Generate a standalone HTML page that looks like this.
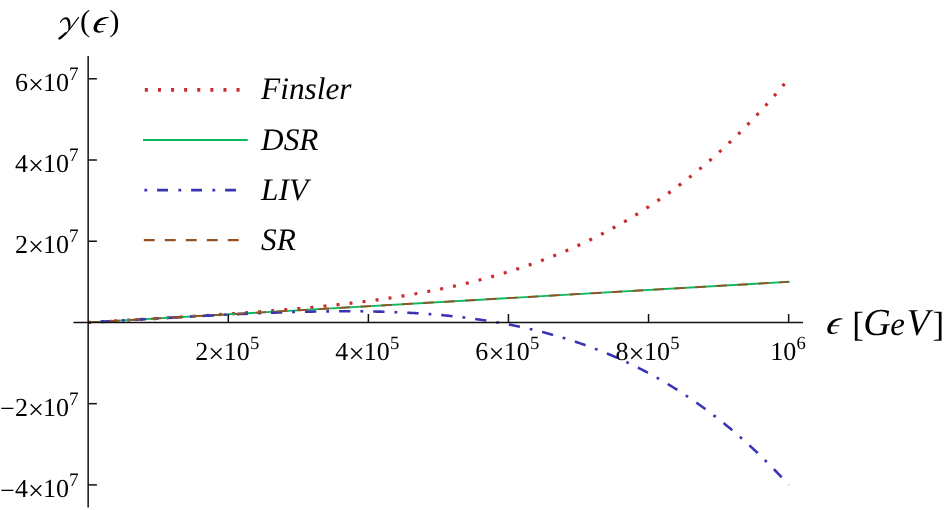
<!DOCTYPE html>
<html><head><meta charset="utf-8"><title>plot</title>
<style>
html,body{margin:0;padding:0;background:#fff;}
body{width:947px;height:510px;overflow:hidden;}
svg{display:block;will-change:transform;}
text{font-family:"Liberation Serif",serif;fill:#000;text-rendering:geometricPrecision;}
.it{font-style:italic;}
</style></head><body>
<svg width="947" height="510" viewBox="0 0 947 510">
<rect width="947" height="510" fill="#fff"/>

<g fill="none">
<path d="M88.20 322.45 L89.95 322.35 L91.70 322.25 L93.45 322.15 L95.20 322.04 L96.96 321.94 L98.71 321.84 L100.46 321.74 L102.21 321.64 L103.96 321.54 L105.71 321.43 L107.46 321.33 L109.21 321.23 L110.96 321.13 L112.72 321.03 L114.47 320.93 L116.22 320.83 L117.97 320.72 L119.72 320.62 L121.47 320.52 L123.22 320.42 L124.97 320.32 L126.72 320.21 L128.48 320.11 L130.23 320.01 L131.98 319.91 L133.73 319.81 L135.48 319.70 L137.23 319.60 L138.98 319.50 L140.73 319.40 L142.48 319.30 L144.24 319.19 L145.99 319.09 L147.74 318.99 L149.49 318.88 L151.24 318.78 L152.99 318.68 L154.74 318.58 L156.49 318.47 L158.24 318.37 L160.00 318.27 L161.75 318.16 L163.50 318.06 L165.25 317.95 L167.00 317.85 L168.75 317.74 L170.50 317.64 L172.25 317.53 L174.00 317.43 L175.75 317.32 L177.51 317.22 L179.26 317.11 L181.01 317.01 L182.76 316.90 L184.51 316.79 L186.26 316.69 L188.01 316.58 L189.76 316.47 L191.51 316.36 L193.27 316.26 L195.02 316.15 L196.77 316.04 L198.52 315.93 L200.27 315.82 L202.02 315.71 L203.77 315.60 L205.52 315.49 L207.27 315.38 L209.03 315.26 L210.78 315.15 L212.53 315.04 L214.28 314.93 L216.03 314.81 L217.78 314.70 L219.53 314.58 L221.28 314.47 L223.03 314.35 L224.79 314.24 L226.54 314.12 L228.29 314.00 L230.04 313.89 L231.79 313.77 L233.54 313.65 L235.29 313.53 L237.04 313.41 L238.79 313.28 L240.55 313.16 L242.30 313.04 L244.05 312.92 L245.80 312.79 L247.55 312.67 L249.30 312.54 L251.05 312.41 L252.80 312.29 L254.55 312.16 L256.31 312.03 L258.06 311.90 L259.81 311.77 L261.56 311.64 L263.31 311.50 L265.06 311.37 L266.81 311.24 L268.56 311.10 L270.31 310.96 L272.07 310.83 L273.82 310.69 L275.57 310.55 L277.32 310.41 L279.07 310.26 L280.82 310.12 L282.57 309.98 L284.32 309.83 L286.07 309.68 L287.83 309.54 L289.58 309.39 L291.33 309.24 L293.08 309.09 L294.83 308.93 L296.58 308.78 L298.33 308.62 L300.08 308.47 L301.83 308.31 L303.59 308.15 L305.34 307.99 L307.09 307.82 L308.84 307.66 L310.59 307.49 L312.34 307.33 L314.09 307.16 L315.84 306.99 L317.59 306.81 L319.35 306.64 L321.10 306.47 L322.85 306.29 L324.60 306.11 L326.35 305.93 L328.10 305.75 L329.85 305.56 L331.60 305.38 L333.35 305.19 L335.11 305.00 L336.86 304.81 L338.61 304.62 L340.36 304.42 L342.11 304.22 L343.86 304.02 L345.61 303.82 L347.36 303.62 L349.11 303.41 L350.87 303.21 L352.62 303.00 L354.37 302.78 L356.12 302.57 L357.87 302.35 L359.62 302.14 L361.37 301.91 L363.12 301.69 L364.87 301.47 L366.62 301.24 L368.38 301.01 L370.13 300.78 L371.88 300.54 L373.63 300.30 L375.38 300.06 L377.13 299.82 L378.88 299.57 L380.63 299.33 L382.38 299.08 L384.14 298.82 L385.89 298.57 L387.64 298.31 L389.39 298.05 L391.14 297.78 L392.89 297.51 L394.64 297.24 L396.39 296.97 L398.14 296.70 L399.90 296.42 L401.65 296.13 L403.40 295.85 L405.15 295.56 L406.90 295.27 L408.65 294.98 L410.40 294.68 L412.15 294.38 L413.90 294.07 L415.66 293.77 L417.41 293.46 L419.16 293.14 L420.91 292.82 L422.66 292.50 L424.41 292.18 L426.16 291.85 L427.91 291.52 L429.66 291.18 L431.42 290.85 L433.17 290.50 L434.92 290.16 L436.67 289.81 L438.42 289.45 L440.17 289.10 L441.92 288.74 L443.67 288.37 L445.42 288.00 L447.18 287.63 L448.93 287.25 L450.68 286.87 L452.43 286.49 L454.18 286.10 L455.93 285.70 L457.68 285.31 L459.43 284.91 L461.18 284.50 L462.94 284.09 L464.69 283.67 L466.44 283.26 L468.19 282.83 L469.94 282.40 L471.69 281.97 L473.44 281.53 L475.19 281.09 L476.94 280.65 L478.70 280.20 L480.45 279.74 L482.20 279.28 L483.95 278.81 L485.70 278.34 L487.45 277.87 L489.20 277.39 L490.95 276.90 L492.70 276.41 L494.46 275.92 L496.21 275.42 L497.96 274.91 L499.71 274.40 L501.46 273.89 L503.21 273.36 L504.96 272.84 L506.71 272.31 L508.46 271.77 L510.22 271.23 L511.97 270.68 L513.72 270.12 L515.47 269.56 L517.22 269.00 L518.97 268.43 L520.72 267.85 L522.47 267.27 L524.22 266.68 L525.98 266.09 L527.73 265.49 L529.48 264.88 L531.23 264.27 L532.98 263.65 L534.73 263.02 L536.48 262.39 L538.23 261.76 L539.98 261.11 L541.73 260.46 L543.49 259.81 L545.24 259.15 L546.99 258.48 L548.74 257.80 L550.49 257.12 L552.24 256.43 L553.99 255.74 L555.74 255.03 L557.49 254.32 L559.25 253.61 L561.00 252.89 L562.75 252.16 L564.50 251.42 L566.25 250.68 L568.00 249.93 L569.75 249.17 L571.50 248.40 L573.25 247.63 L575.01 246.85 L576.76 246.06 L578.51 245.27 L580.26 244.47 L582.01 243.66 L583.76 242.84 L585.51 242.02 L587.26 241.19 L589.01 240.35 L590.77 239.50 L592.52 238.64 L594.27 237.78 L596.02 236.91 L597.77 236.03 L599.52 235.14 L601.27 234.25 L603.02 233.34 L604.77 232.43 L606.53 231.51 L608.28 230.58 L610.03 229.65 L611.78 228.70 L613.53 227.75 L615.28 226.78 L617.03 225.81 L618.78 224.83 L620.53 223.84 L622.29 222.85 L624.04 221.84 L625.79 220.83 L627.54 219.80 L629.29 218.77 L631.04 217.73 L632.79 216.68 L634.54 215.62 L636.29 214.55 L638.05 213.47 L639.80 212.38 L641.55 211.28 L643.30 210.17 L645.05 209.06 L646.80 207.93 L648.55 206.79 L650.30 205.65 L652.05 204.49 L653.81 203.33 L655.56 202.15 L657.31 200.96 L659.06 199.77 L660.81 198.56 L662.56 197.35 L664.31 196.12 L666.06 194.88 L667.81 193.64 L669.57 192.38 L671.32 191.11 L673.07 189.83 L674.82 188.54 L676.57 187.24 L678.32 185.93 L680.07 184.61 L681.82 183.28 L683.57 181.94 L685.33 180.58 L687.08 179.22 L688.83 177.84 L690.58 176.46 L692.33 175.06 L694.08 173.65 L695.83 172.23 L697.58 170.79 L699.33 169.35 L701.09 167.89 L702.84 166.42 L704.59 164.95 L706.34 163.45 L708.09 161.95 L709.84 160.44 L711.59 158.91 L713.34 157.37 L715.09 155.82 L716.84 154.26 L718.60 152.68 L720.35 151.09 L722.10 149.49 L723.85 147.88 L725.60 146.25 L727.35 144.62 L729.10 142.96 L730.85 141.30 L732.60 139.63 L734.36 137.94 L736.11 136.23 L737.86 134.52 L739.61 132.79 L741.36 131.05 L743.11 129.29 L744.86 127.53 L746.61 125.75 L748.36 123.95 L750.12 122.14 L751.87 120.32 L753.62 118.49 L755.37 116.64 L757.12 114.77 L758.87 112.90 L760.62 111.00 L762.37 109.10 L764.12 107.18 L765.88 105.25 L767.63 103.30 L769.38 101.34 L771.13 99.36 L772.88 97.37 L774.63 95.37 L776.38 93.35 L778.13 91.31 L779.88 89.26 L781.64 87.20 L783.39 85.12 L785.14 83.02 L786.89 80.91 L788.64 78.79" stroke="#c82c2e" stroke-width="3.2" stroke-dasharray="3 10.115" stroke-dashoffset="0.25"/>
<path d="M88.20 322.45 L789.55 281.79" stroke="#0eb860" stroke-width="1.85"/>
<path d="M88.20 322.45 L89.95 322.35 L91.70 322.25 L93.45 322.15 L95.20 322.04 L96.96 321.94 L98.71 321.84 L100.46 321.74 L102.21 321.64 L103.96 321.54 L105.71 321.43 L107.46 321.33 L109.21 321.23 L110.96 321.13 L112.72 321.03 L114.47 320.93 L116.22 320.83 L117.97 320.72 L119.72 320.62 L121.47 320.52 L123.22 320.42 L124.97 320.32 L126.72 320.22 L128.48 320.12 L130.23 320.02 L131.98 319.91 L133.73 319.81 L135.48 319.71 L137.23 319.61 L138.98 319.51 L140.73 319.41 L142.48 319.31 L144.24 319.21 L145.99 319.11 L147.74 319.01 L149.49 318.91 L151.24 318.81 L152.99 318.71 L154.74 318.61 L156.49 318.51 L158.24 318.41 L160.00 318.31 L161.75 318.21 L163.50 318.11 L165.25 318.01 L167.00 317.91 L168.75 317.82 L170.50 317.72 L172.25 317.62 L174.00 317.52 L175.75 317.42 L177.51 317.33 L179.26 317.23 L181.01 317.13 L182.76 317.04 L184.51 316.94 L186.26 316.84 L188.01 316.75 L189.76 316.65 L191.51 316.56 L193.27 316.46 L195.02 316.37 L196.77 316.27 L198.52 316.18 L200.27 316.09 L202.02 315.99 L203.77 315.90 L205.52 315.81 L207.27 315.72 L209.03 315.62 L210.78 315.53 L212.53 315.44 L214.28 315.35 L216.03 315.26 L217.78 315.17 L219.53 315.09 L221.28 315.00 L223.03 314.91 L224.79 314.82 L226.54 314.74 L228.29 314.65 L230.04 314.57 L231.79 314.48 L233.54 314.40 L235.29 314.32 L237.04 314.23 L238.79 314.15 L240.55 314.07 L242.30 313.99 L244.05 313.91 L245.80 313.83 L247.55 313.76 L249.30 313.68 L251.05 313.60 L252.80 313.53 L254.55 313.45 L256.31 313.38 L258.06 313.30 L259.81 313.23 L261.56 313.16 L263.31 313.09 L265.06 313.02 L266.81 312.95 L268.56 312.89 L270.31 312.82 L272.07 312.75 L273.82 312.69 L275.57 312.63 L277.32 312.56 L279.07 312.50 L280.82 312.44 L282.57 312.38 L284.32 312.33 L286.07 312.27 L287.83 312.22 L289.58 312.16 L291.33 312.11 L293.08 312.06 L294.83 312.01 L296.58 311.96 L298.33 311.91 L300.08 311.87 L301.83 311.82 L303.59 311.78 L305.34 311.74 L307.09 311.70 L308.84 311.66 L310.59 311.62 L312.34 311.58 L314.09 311.55 L315.84 311.52 L317.59 311.49 L319.35 311.46 L321.10 311.43 L322.85 311.40 L324.60 311.38 L326.35 311.36 L328.10 311.34 L329.85 311.32 L331.60 311.30 L333.35 311.28 L335.11 311.27 L336.86 311.26 L338.61 311.25 L340.36 311.24 L342.11 311.24 L343.86 311.23 L345.61 311.23 L347.36 311.23 L349.11 311.23 L350.87 311.24 L352.62 311.24 L354.37 311.25 L356.12 311.26 L357.87 311.28 L359.62 311.29 L361.37 311.31 L363.12 311.33 L364.87 311.35 L366.62 311.38 L368.38 311.40 L370.13 311.43 L371.88 311.47 L373.63 311.50 L375.38 311.54 L377.13 311.58 L378.88 311.62 L380.63 311.66 L382.38 311.71 L384.14 311.76 L385.89 311.82 L387.64 311.87 L389.39 311.93 L391.14 311.99 L392.89 312.06 L394.64 312.12 L396.39 312.19 L398.14 312.27 L399.90 312.34 L401.65 312.42 L403.40 312.50 L405.15 312.59 L406.90 312.68 L408.65 312.77 L410.40 312.86 L412.15 312.96 L413.90 313.06 L415.66 313.16 L417.41 313.27 L419.16 313.38 L420.91 313.50 L422.66 313.61 L424.41 313.74 L426.16 313.86 L427.91 313.99 L429.66 314.12 L431.42 314.26 L433.17 314.40 L434.92 314.54 L436.67 314.69 L438.42 314.84 L440.17 314.99 L441.92 315.15 L443.67 315.31 L445.42 315.48 L447.18 315.65 L448.93 315.82 L450.68 316.00 L452.43 316.18 L454.18 316.37 L455.93 316.56 L457.68 316.75 L459.43 316.95 L461.18 317.15 L462.94 317.36 L464.69 317.57 L466.44 317.79 L468.19 318.01 L469.94 318.23 L471.69 318.46 L473.44 318.69 L475.19 318.93 L476.94 319.18 L478.70 319.42 L480.45 319.68 L482.20 319.93 L483.95 320.20 L485.70 320.46 L487.45 320.74 L489.20 321.01 L490.95 321.30 L492.70 321.58 L494.46 321.87 L496.21 322.17 L497.96 322.47 L499.71 322.78 L501.46 323.09 L503.21 323.41 L504.96 323.74 L506.71 324.06 L508.46 324.40 L510.22 324.74 L511.97 325.08 L513.72 325.44 L515.47 325.79 L517.22 326.15 L518.97 326.52 L520.72 326.90 L522.47 327.28 L524.22 327.66 L525.98 328.05 L527.73 328.45 L529.48 328.85 L531.23 329.26 L532.98 329.68 L534.73 330.10 L536.48 330.53 L538.23 330.96 L539.98 331.40 L541.73 331.85 L543.49 332.30 L545.24 332.76 L546.99 333.22 L548.74 333.70 L550.49 334.18 L552.24 334.66 L553.99 335.15 L555.74 335.65 L557.49 336.16 L559.25 336.67 L561.00 337.19 L562.75 337.72 L564.50 338.25 L566.25 338.79 L568.00 339.34 L569.75 339.89 L571.50 340.45 L573.25 341.02 L575.01 341.60 L576.76 342.18 L578.51 342.78 L580.26 343.37 L582.01 343.98 L583.76 344.59 L585.51 345.22 L587.26 345.84 L589.01 346.48 L590.77 347.13 L592.52 347.78 L594.27 348.44 L596.02 349.11 L597.77 349.78 L599.52 350.47 L601.27 351.16 L603.02 351.86 L604.77 352.57 L606.53 353.29 L608.28 354.01 L610.03 354.75 L611.78 355.49 L613.53 356.24 L615.28 357.00 L617.03 357.77 L618.78 358.54 L620.53 359.33 L622.29 360.12 L624.04 360.93 L625.79 361.74 L627.54 362.56 L629.29 363.39 L631.04 364.23 L632.79 365.08 L634.54 365.93 L636.29 366.80 L638.05 367.68 L639.80 368.56 L641.55 369.46 L643.30 370.36 L645.05 371.27 L646.80 372.20 L648.55 373.13 L650.30 374.07 L652.05 375.03 L653.81 375.99 L655.56 376.96 L657.31 377.94 L659.06 378.94 L660.81 379.94 L662.56 380.95 L664.31 381.98 L666.06 383.01 L667.81 384.05 L669.57 385.11 L671.32 386.17 L673.07 387.25 L674.82 388.33 L676.57 389.43 L678.32 390.54 L680.07 391.66 L681.82 392.78 L683.57 393.92 L685.33 395.08 L687.08 396.24 L688.83 397.41 L690.58 398.60 L692.33 399.79 L694.08 401.00 L695.83 402.22 L697.58 403.45 L699.33 404.69 L701.09 405.94 L702.84 407.21 L704.59 408.48 L706.34 409.77 L708.09 411.07 L709.84 412.38 L711.59 413.71 L713.34 415.04 L715.09 416.39 L716.84 417.75 L718.60 419.12 L720.35 420.51 L722.10 421.90 L723.85 423.31 L725.60 424.74 L727.35 426.17 L729.10 427.62 L730.85 429.08 L732.60 430.55 L734.36 432.04 L736.11 433.54 L737.86 435.05 L739.61 436.57 L741.36 438.11 L743.11 439.66 L744.86 441.23 L746.61 442.81 L748.36 444.40 L750.12 446.00 L751.87 447.62 L753.62 449.26 L755.37 450.90 L757.12 452.56 L758.87 454.24 L760.62 455.92 L762.37 457.63 L764.12 459.34 L765.88 461.07 L767.63 462.82 L769.38 464.58 L771.13 466.35 L772.88 468.14 L774.63 469.94 L776.38 471.76 L778.13 473.59 L779.88 475.43 L781.64 477.30 L783.39 479.17 L785.14 481.06 L786.89 482.97 L788.64 484.89" stroke="#3a34b4" stroke-width="2.6" stroke-dasharray="2.8 10 11.31 10" stroke-dashoffset="0.4"/>
<path d="M88.20 322.45 L788.64 281.84" stroke="#945224" stroke-width="1.85" stroke-dasharray="10.5 10.475"/>
</g>
<g stroke="#111" stroke-width="1.5" fill="none">
<path d="M88.15 56V507.6"/>
<path d="M73.45 322.45H803"/>
<path d="M88.15 78.79H96.9"/>
<path d="M88.15 160.01H96.9"/>
<path d="M88.15 241.23H96.9"/>
<path d="M88.15 403.67H96.9"/>
<path d="M88.15 484.89H96.9"/>
<path d="M228.29 322.45V314"/>
<path d="M368.38 322.45V314"/>
<path d="M508.46 322.45V314"/>
<path d="M648.55 322.45V314"/>
<path d="M788.64 322.45V314"/>
</g>
<g fill="none">
<path d="M144.85 89.85H248" stroke="#c82c2e" stroke-width="3.8" stroke-dasharray="3 10.1"/>
<path d="M143 140H247.7" stroke="#0eb860" stroke-width="2.1"/>
<path d="M144.4 190.1H246" stroke="#3a34b4" stroke-width="2.8" stroke-dasharray="2.8 9.9 10.9 10.4"/>
<path d="M143.8 240.05H247" stroke="#945224" stroke-width="2.2" stroke-dasharray="10.9 10.1"/>
</g>
<text class="it" x="261.1" y="99.2" font-size="31.3">Finsler</text>
<text class="it" x="261.1" y="149.7" font-size="31.3">DSR</text>
<text class="it" x="261.1" y="200.1" font-size="31.3">LIV</text>
<text class="it" x="261.1" y="250.2" font-size="31.3">SR</text>
<text y="90.89" font-size="26"><tspan x="15.00">6</tspan><tspan x="28.10" dy="3.1" font-size="28.3">×</tspan><tspan x="42.90" dy="-3.1">10</tspan><tspan x="69.10" dy="-11.00" font-size="19.2">7</tspan></text>
<text y="172.11" font-size="26"><tspan x="15.00">4</tspan><tspan x="28.10" dy="3.1" font-size="28.3">×</tspan><tspan x="42.90" dy="-3.1">10</tspan><tspan x="69.10" dy="-11.00" font-size="19.2">7</tspan></text>
<text y="253.33" font-size="26"><tspan x="15.00">2</tspan><tspan x="28.10" dy="3.1" font-size="28.3">×</tspan><tspan x="42.90" dy="-3.1">10</tspan><tspan x="69.10" dy="-11.00" font-size="19.2">7</tspan></text>
<text y="415.77" font-size="26"><tspan x="0.05" dy="1.6">−</tspan><tspan dy="-1.6" x="15.00">2</tspan><tspan x="28.10" dy="3.1" font-size="28.3">×</tspan><tspan x="42.90" dy="-3.1">10</tspan><tspan x="69.10" dy="-11.00" font-size="19.2">7</tspan></text>
<text y="496.99" font-size="26"><tspan x="0.05" dy="1.6">−</tspan><tspan dy="-1.6" x="15.00">4</tspan><tspan x="28.10" dy="3.1" font-size="28.3">×</tspan><tspan x="42.90" dy="-3.1">10</tspan><tspan x="69.10" dy="-11.00" font-size="19.2">7</tspan></text>
<text y="359.90" font-size="26"><tspan x="195.19">2</tspan><tspan x="208.29" dy="3.1" font-size="28.3">×</tspan><tspan x="223.69" dy="-3.1">10</tspan><tspan x="249.89" dy="-11.20" font-size="18.6">5</tspan></text>
<text y="359.90" font-size="26"><tspan x="335.28">4</tspan><tspan x="348.38" dy="3.1" font-size="28.3">×</tspan><tspan x="363.78" dy="-3.1">10</tspan><tspan x="389.98" dy="-11.20" font-size="18.6">5</tspan></text>
<text y="359.90" font-size="26"><tspan x="475.36">6</tspan><tspan x="488.46" dy="3.1" font-size="28.3">×</tspan><tspan x="503.86" dy="-3.1">10</tspan><tspan x="530.06" dy="-11.20" font-size="18.6">5</tspan></text>
<text y="359.90" font-size="26"><tspan x="615.45">8</tspan><tspan x="628.55" dy="3.1" font-size="28.3">×</tspan><tspan x="643.95" dy="-3.1">10</tspan><tspan x="670.15" dy="-11.20" font-size="18.6">5</tspan></text>
<text y="359.90" font-size="26"><tspan x="770.30">10</tspan><tspan x="796.50" dy="-11.20" font-size="18.6">6</tspan></text>
<g role="img" aria-label="γ">
<path d="M 59.97 22.55 C 60.56 19.80 63.32 17.19 66.53 17.19 C 69.29 17.19 70.55 20.91 70.55 25.02 C 70.55 26.88 70.11 28.37 69.66 29.86 L 68.32 30.01 C 68.47 27.63 68.39 25.54 68.09 23.90 C 67.72 20.91 67.05 19.27 65.19 19.27 C 62.95 19.27 61.31 21.29 60.71 23.00 Z M 66.68 32.99 C 64.59 35.68 62.35 37.77 60.41 39.18 C 59.22 40.00 58.03 39.56 58.33 38.51 C 58.62 37.32 61.61 35.83 65.41 32.10 Z" fill="#000"/>
<path d="M 78.83 17.19 L 69.66 29.27 C 67.42 32.47 63.69 36.57 59.97 38.81" fill="none" stroke="#000" stroke-width="1.15"/>
</g>
<path role="img" aria-label="ϵ" d="M 108.81 17.19 C 103.22 16.44 98.00 18.68 95.39 22.78 C 93.52 25.76 92.78 29.12 94.64 31.35 C 96.51 33.44 100.98 32.99 103.81 31.21 L 103.37 30.46 C 100.98 31.73 98.37 31.73 97.40 29.86 C 96.65 28.22 97.10 26.13 98.00 25.02 L 105.45 25.02 L 105.60 23.90 L 98.59 23.90 C 100.23 20.91 103.22 18.30 108.81 17.93 Z" fill="#000"/>
<text y="31.0" font-size="30.7"><tspan x="80.0">(</tspan><tspan x="109.3">)</tspan></text>
<path role="img" aria-label="ϵ" d="M 842.56 318.49 C 836.97 317.74 831.75 319.98 829.14 324.08 C 827.27 327.06 826.53 330.42 828.39 332.65 C 830.26 334.74 834.73 334.29 837.56 332.51 L 837.12 331.76 C 834.73 333.03 832.12 333.03 831.15 331.16 C 830.40 329.52 830.85 327.43 831.75 326.32 L 839.20 326.32 L 839.35 325.20 L 832.34 325.20 C 833.98 322.21 836.97 319.60 842.56 319.23 Z" fill="#000"/>
<text y="334.9" font-size="38"><tspan x="852.2" y="335.5" font-size="35">[</tspan><tspan class="it" x="863.2" y="334.9">G</tspan><tspan class="it" x="890.2" font-size="33">e</tspan><tspan class="it" x="906.5" font-size="38">V</tspan><tspan x="932.5" y="335.5" font-size="35">]</tspan></text>
</svg></body></html>
